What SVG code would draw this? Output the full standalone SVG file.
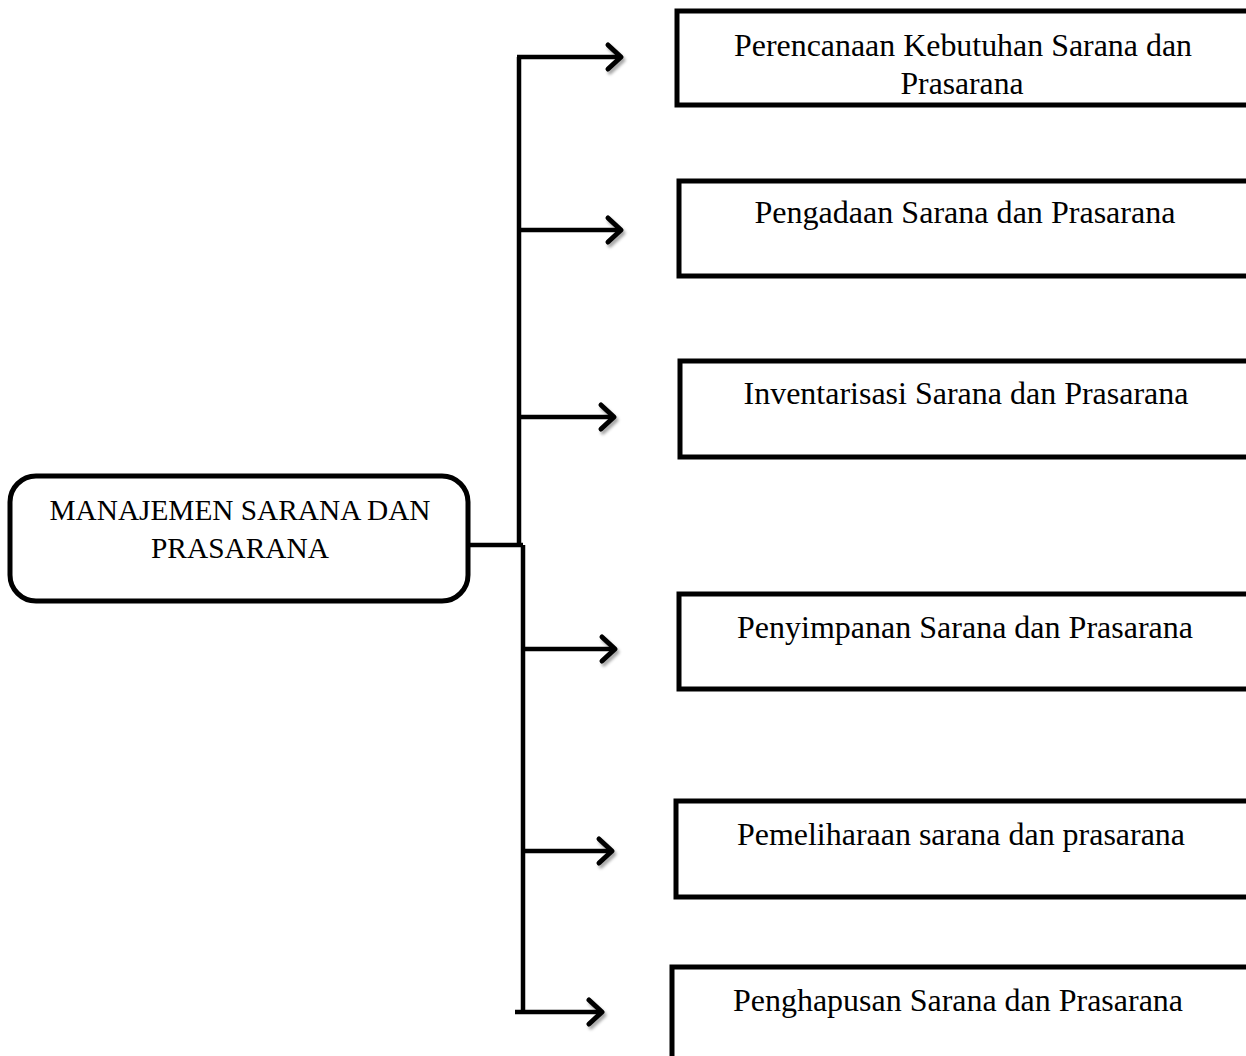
<svg xmlns="http://www.w3.org/2000/svg" width="1246" height="1056" viewBox="0 0 1246 1056">
<style>
.box{fill:#fff;stroke:#000;stroke-width:5}
.t{font-family:"Liberation Serif","Times New Roman",serif;font-size:32px;fill:#000;text-anchor:middle}
.tl{font-size:30px}
.ln{fill:none;stroke:#000;stroke-width:4.5}
.ah{fill:none;stroke:#000;stroke-width:5;stroke-linecap:round;stroke-linejoin:round}
</style>
<defs>
<filter id="sh" x="-50%" y="-50%" width="200%" height="200%">
<feDropShadow dx="2" dy="3" stdDeviation="1.5" flood-color="#000" flood-opacity="0.35"/>
</filter>
</defs>
<rect width="1246" height="1056" fill="#fff"/>
<g id="connectors">
<path class="ln" d="M470 545 H523"/>
<path class="ln" d="M519 57 V545"/>
<path class="ln" d="M523 545 V1012"/>
<path class="ln" d="M517 57 H620"/>
<path class="ln" d="M519 230 H620"/>
<path class="ln" d="M519 417 H613"/>
<path class="ln" d="M523 649 H614"/>
<path class="ln" d="M523 851 H611"/>
<path class="ln" d="M515 1012 H601"/>
<g filter="url(#sh)">
<path class="ah" d="M608 45 L621 57 L608 69"/>
<path class="ah" d="M608 218 L621 230 L608 242"/>
<path class="ah" d="M601 405 L614 417 L601 429"/>
<path class="ah" d="M602 637 L615 649 L602 661"/>
<path class="ah" d="M599 839 L612 851 L599 863"/>
<path class="ah" d="M589 1000 L602 1012 L589 1024"/>
</g>
</g>
<g id="root">
<rect class="box" x="10" y="476" width="458" height="125" rx="26"/>
<text class="t tl" x="240" y="520" textLength="381" lengthAdjust="spacingAndGlyphs">MANAJEMEN SARANA DAN</text>
<text class="t tl" x="240" y="558" textLength="178" lengthAdjust="spacingAndGlyphs">PRASARANA</text>
</g>
<g id="n1">
<rect class="box" x="677" y="11" width="600" height="94"/>
<text class="t" x="963" y="56" textLength="458" lengthAdjust="spacingAndGlyphs">Perencanaan Kebutuhan Sarana dan</text>
<text class="t" x="962" y="94" textLength="123" lengthAdjust="spacingAndGlyphs">Prasarana</text>
</g>
<g id="n2">
<rect class="box" x="679" y="181" width="600" height="95"/>
<text class="t" x="965" y="223" textLength="421" lengthAdjust="spacingAndGlyphs">Pengadaan Sarana dan Prasarana</text>
</g>
<g id="n3">
<rect class="box" x="680" y="361" width="600" height="96"/>
<text class="t" x="966" y="404" textLength="445" lengthAdjust="spacingAndGlyphs">Inventarisasi Sarana dan Prasarana</text>
</g>
<g id="n4">
<rect class="box" x="679" y="594" width="600" height="95"/>
<text class="t" x="965" y="638" textLength="456" lengthAdjust="spacingAndGlyphs">Penyimpanan Sarana dan Prasarana</text>
</g>
<g id="n5">
<rect class="box" x="676" y="801" width="600" height="96"/>
<text class="t" x="961" y="845" textLength="448" lengthAdjust="spacingAndGlyphs">Pemeliharaan sarana dan prasarana</text>
</g>
<g id="n6">
<rect class="box" x="672" y="967" width="600" height="120"/>
<text class="t" x="958" y="1011" textLength="450" lengthAdjust="spacingAndGlyphs">Penghapusan Sarana dan Prasarana</text>
</g>
</svg>
